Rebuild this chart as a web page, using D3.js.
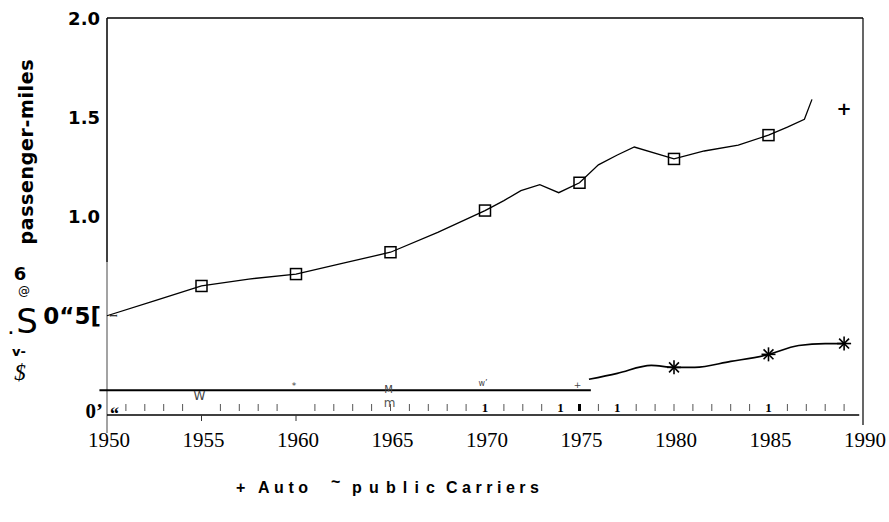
<!DOCTYPE html>
<html><head><meta charset="utf-8">
<script src="https://cdn.jsdelivr.net/npm/d3@7"></script>
<style>body{margin:0;background:#fff}svg{display:block}</style>
</head><body>
<svg id="c" width="889" height="522"></svg>
<script>
// ---- data ----
const autoYears  = [1950,1952.5,1955,1957.5,1960,1962.5,1965,1967.5,1970,1971,1971.9,1972.9,1973.9,1975,1976,1977,1977.9,1980,1981.6,1983.4,1985,1986,1986.9,1987.3];
const autoValues = [0.50,0.575,0.65,0.685,0.71,0.765,0.82,0.92,1.03,1.08,1.13,1.16,1.12,1.17,1.26,1.31,1.35,1.29,1.33,1.36,1.41,1.45,1.49,1.59];
const autoMarkerYears = [1955,1960,1965,1970,1975,1980,1985];
const autoExtraYear = 1989, autoExtraValue = 1.54;
const publicEarlyYears  = [1949.6,1975.6];
const publicEarlyValues = [0.125,0.125];
const publicYears  = [1975.5,1977,1978.8,1980,1981.1,1983,1984.8,1986.6,1988,1989];
const publicValues = [0.18,0.21,0.25,0.24,0.24,0.27,0.30,0.35,0.36,0.36];
const publicMarkerYears = [1980,1985,1989];
const earlyGlyphYears = [1955,1960,1965,1970,1975];
const earlyGlyphs = ["W","*","M","w\u2019","+"];
const xTicks = [1950,1955,1960,1965,1970,1975,1980,1985,1990];
const yTicks = [2.0,1.5,1.0];
const yTickLabels = ["2.0","1.5","1.0"];
const minorYears = d3.range(1951,1990);
const boldMinorYears = [1970,1974,1977,1985];

const svg = d3.select("#c");
const x = d3.scaleLinear().domain([1950,1990]).range([107,863]);
const y = d3.scaleLinear().domain([0,2]).range([415,18]);
const interp = (ys,vs,yr)=>d3.scaleLinear().domain(ys).range(vs)(yr);

// frame
svg.append("line").attr("x1",x(1950)).attr("x2",x(1990)).attr("y1",y(2)).attr("y2",y(2)).attr("stroke","#000").attr("stroke-width",1.3);
svg.append("line").attr("x1",x(1990)).attr("x2",x(1990)).attr("y1",y(2)).attr("y2",425).attr("stroke","#000").attr("stroke-width",1.2);
svg.append("line").attr("x1",x(1950)).attr("x2",x(1950)).attr("y1",y(2)).attr("y2",262).attr("stroke","#000").attr("stroke-width",1.5);
svg.append("line").attr("x1",x(1950)).attr("x2",x(1950)).attr("y1",262).attr("y2",433).attr("stroke","#666").attr("stroke-width",1.2);
svg.append("line").attr("x1",x(1950)).attr("x2",x(1989.8)).attr("y1",y(0)).attr("y2",y(0)).attr("stroke","#000").attr("stroke-width",1.5);

// minor ticks above x axis
svg.selectAll(".mt").data(minorYears.filter(d=>d!==1955&&d!==1960&&!boldMinorYears.includes(d))).enter()
  .append("line").attr("x1",d=>x(d)).attr("x2",d=>x(d)).attr("y1",y(0)-11).attr("y2",y(0)-4)
  .attr("stroke",d=>d===1975?"#000":"#555").attr("stroke-width",d=>d===1975?3:1);
svg.selectAll(".bt").data(boldMinorYears).enter().append("text")
  .attr("x",d=>x(d)).attr("y",y(0)-3).attr("text-anchor","middle")
  .attr("font-family","Liberation Serif").attr("font-weight","bold").attr("font-size",13).text("1");
// major ticks below
svg.selectAll(".Mt").data([1955,1960]).enter().append("line")
  .attr("x1",d=>x(d)).attr("x2",d=>x(d)).attr("y1",y(0)).attr("y2",y(0)+6).attr("stroke","#333").attr("stroke-width",1);

// x labels
svg.selectAll(".xl").data(xTicks).enter().append("text")
  .attr("x",d=>x(d)+2).attr("y",447).attr("text-anchor","middle")
  .attr("font-family","Liberation Serif").attr("font-size",21).text(d=>d);

// y labels
svg.selectAll(".yl").data(yTicks).enter().append("text")
  .attr("x",100).attr("y",d=>y(d)+6.5).attr("text-anchor","end")
  .attr("font-family","DejaVu Sans").attr("font-weight","bold").attr("font-size",18)
  .text((d,i)=>yTickLabels[i]);
svg.append("text").attr("x",101).attr("y",y(0.5)+8).attr("text-anchor","end")
  .attr("font-family","DejaVu Sans").attr("font-weight","bold").attr("font-size",23).text("0\u201C5[");
svg.append("text").attr("x",103).attr("y",y(0)+3).attr("text-anchor","end")
  .attr("font-family","Liberation Serif").attr("font-weight","bold").attr("font-size",21).text("0\u2019");
svg.append("text").attr("x",110).attr("y",y(0)+5).attr("font-family","Liberation Serif").attr("font-weight","bold").attr("font-size",18).text("\u201C");

// y axis title (garbled as in source)
svg.append("text").attr("transform","translate(33,152) rotate(-90)").attr("text-anchor","middle")
  .attr("font-family","DejaVu Sans").attr("font-weight","bold").attr("font-size",19)
  .attr("textLength",185).text("passenger-miles");
svg.append("text").attr("x",20).attr("y",280).attr("text-anchor","middle").attr("font-family","DejaVu Sans").attr("font-weight","bold").attr("font-size",18).text("6");
svg.append("text").attr("x",24).attr("y",295).attr("text-anchor","middle").attr("font-family","DejaVu Sans").attr("font-size",12).text("@");
svg.append("text").attr("x",27).attr("y",333).attr("text-anchor","middle").attr("font-family","DejaVu Sans").attr("font-size",34).text("S");
svg.append("text").attr("x",11).attr("y",334).attr("text-anchor","middle").attr("font-family","DejaVu Sans").attr("font-weight","bold").attr("font-size",14).text(".");
svg.append("text").attr("x",19).attr("y",356).attr("text-anchor","middle").attr("font-family","DejaVu Sans").attr("font-weight","bold").attr("font-size",13).text("v-");
svg.append("text").attr("x",20).attr("y",380).attr("text-anchor","middle").attr("font-family","Liberation Serif").attr("font-style","italic").attr("font-size",23).text("$");

// auto line
const autoData = autoYears.map((d,i)=>[d,autoValues[i]]);
const line = d3.line().x(d=>x(d[0])).y(d=>y(d[1]));
const smooth = d3.line().x(d=>x(d[0])).y(d=>y(d[1])).curve(d3.curveMonotoneX);
svg.append("path").attr("d",line(autoData)).attr("fill","none").attr("stroke","#000").attr("stroke-width",1.3);
svg.selectAll(".sq").data(autoMarkerYears).enter().append("rect")
  .attr("x",d=>x(d)-5.5).attr("y",d=>y(interp(autoYears,autoValues,d))-5.5)
  .attr("width",11).attr("height",11).attr("fill","none").attr("stroke","#000").attr("stroke-width",1.5);
svg.append("text").attr("transform",`translate(${x(1950)+6},${y(autoValues[0])}) rotate(90)`)
  .attr("text-anchor","middle").attr("dy","0.35em").attr("font-family","Liberation Serif").attr("font-size",10).text("I");
svg.append("text").attr("x",x(autoExtraYear)).attr("y",y(autoExtraValue)+6).attr("text-anchor","middle")
  .attr("font-family","DejaVu Sans").attr("font-weight","bold").attr("font-size",18).text("+");

// public carriers
svg.append("path").attr("d",line(publicEarlyYears.map((d,i)=>[d,publicEarlyValues[i]]))).attr("fill","none").attr("stroke","#000").attr("stroke-width",2);
const gy = [y(0.125)+10, y(0.125)-1, y(0.125)+3, y(0.125)-4, y(0.125)-2];
const gs = [12, 9, 10, 8, 9];
svg.selectAll(".eg").data(earlyGlyphYears).enter().append("text")
  .attr("x",d=>x(d)-2).attr("y",(d,i)=>gy[i])
  .attr("text-anchor","middle").attr("font-family","DejaVu Sans").attr("fill","#444")
  .attr("font-size",(d,i)=>gs[i]).text((d,i)=>earlyGlyphs[i]);
svg.append("text").attr("x",x(1965)-1).attr("y",y(0.125)+17).attr("text-anchor","middle").attr("font-family","DejaVu Sans").attr("fill","#555").attr("font-size",12).text("m");
svg.append("path").attr("d",smooth(publicYears.map((d,i)=>[d,publicValues[i]]))).attr("fill","none").attr("stroke","#000").attr("stroke-width",1.7);
const star = svg.selectAll(".st").data(publicMarkerYears).enter().append("g")
  .attr("transform",d=>`translate(${x(d)},${y(interp(publicYears,publicValues,d))})`);
[0,45,90,135].forEach(a=>{
  star.append("line").attr("x1",-7*Math.cos(a*Math.PI/180)).attr("y1",-7*Math.sin(a*Math.PI/180))
    .attr("x2",7*Math.cos(a*Math.PI/180)).attr("y2",7*Math.sin(a*Math.PI/180))
    .attr("stroke","#000").attr("stroke-width",1.6);
});

// legend
const lg = svg.append("g").attr("font-family","Liberation Sans").attr("font-weight","bold").attr("font-size",16);
lg.append("text").attr("x",236).attr("y",493).text("+");
lg.append("text").attr("x",258).attr("y",493).attr("textLength",50).text("Auto");
lg.append("text").attr("x",331).attr("y",487).text("~");
lg.append("text").attr("x",352).attr("y",493).attr("textLength",83).text("public");
lg.append("text").attr("x",446).attr("y",493).attr("textLength",93).text("Carriers");
</script>
</body></html>
